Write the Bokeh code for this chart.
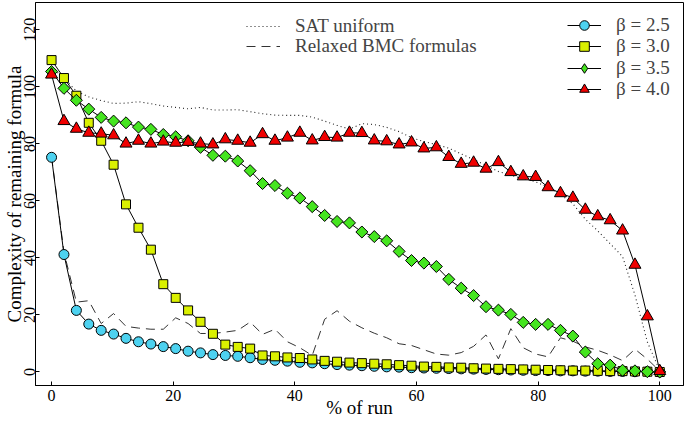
import math
from bokeh.plotting import figure
from bokeh.models import Range1d, FixedTicker, Legend, LegendItem
from bokeh.embed import file_html
from bokeh.resources import INLINE

# ---- data ----
run_pct = [0, 2.04, 4.08, 6.12, 8.16, 10.2, 12.24, 14.29, 16.33, 18.37,
           20.41, 22.45, 24.49, 26.53, 28.57, 30.61, 32.65, 34.69, 36.73, 38.78,
           40.82, 42.86, 44.9, 46.94, 48.98, 51.02, 53.06, 55.1, 57.14, 59.18,
           61.22, 63.27, 65.31, 67.35, 69.39, 71.43, 73.47, 75.51, 77.55, 79.59,
           81.63, 83.67, 85.71, 87.76, 89.8, 91.84, 93.88, 95.92, 97.96, 100]

beta_25 = [75.3, 41.2, 21.6, 16.8, 14.6, 13.3, 11.8, 10.6, 9.8, 8.9,
           8.2, 7.3, 6.7, 6.1, 5.8, 5.5, 5.0, 4.4, 4.1, 3.8,
           3.4, 3.2, 2.9, 2.6, 2.4, 2.2, 2.0, 1.8, 1.7, 1.5,
           1.4, 1.3, 1.2, 1.1, 1.0, 0.9, 0.8, 0.7, 0.6, 0.5,
           0.5, 0.4, 0.4, 0.3, 0.3, 0.2, 0.2, 0.1, 0.1, 0.0]

beta_30 = [109.4, 103.1, 96.9, 87.4, 81.1, 72.7, 58.8, 50.6, 42.9, 30.8,
           26.0, 21.6, 17.6, 13.4, 9.6, 8.8, 8.2, 5.8, 5.5, 5.1,
           4.9, 4.4, 3.9, 3.6, 3.3, 3.1, 2.9, 2.7, 2.4, 2.2,
           1.9, 1.8, 1.6, 1.5, 1.3, 1.2, 1.1, 1.0, 0.9, 0.8,
           0.7, 0.6, 0.5, 0.5, 0.4, 0.3, 0.3, 0.2, 0.1, 0.0]

beta_35 = [105.4, 99.5, 95.3, 92.2, 89.3, 88.0, 87.4, 85.9, 85.1, 83.3,
           82.5, 81.1, 78.8, 76.0, 75.7, 74.0, 70.6, 66.1, 65.4, 62.7,
           61.0, 58.0, 54.9, 52.8, 52.3, 49.1, 47.5, 46.0, 42.3, 39.1,
           38.2, 37.0, 32.5, 29.4, 26.8, 22.9, 21.7, 20.2, 17.4, 16.7,
           16.7, 14.6, 12.6, 7.0, 2.9, 2.4, 0.6, 0.4, 0.1, 0.0]

beta_40 = [104.3, 88.0, 85.3, 83.9, 83.6, 83.0, 80.1, 81.1, 80.1, 80.8,
           80.4, 80.7, 80.1, 79.8, 81.6, 81.1, 80.4, 83.4, 81.1, 82.2,
           83.9, 81.2, 82.4, 82.2, 83.9, 83.8, 81.2, 80.9, 79.8, 80.5,
           78.4, 78.8, 75.4, 73.0, 73.4, 71.3, 73.6, 70.1, 68.6, 68.4,
           64.8, 62.7, 61.1, 56.9, 54.6, 53.2, 49.6, 37.6, 19.5, 0.3]

sat_uniform = [107, 103, 98.5, 96.5, 95.2, 94.2, 94.3, 94.8, 94.1, 93.3,
               92.8, 92.3, 92.8, 91.9, 91.9, 92.0, 91.3, 90.6, 90.1, 90.0,
               90.0, 89.4, 88.0, 86.5, 85.2, 87.1, 86.8, 85.8, 84.3, 82.2,
               80.8, 79.8, 78.5, 76.5, 74.5, 72.5, 70.3, 69.0, 67.8, 66.7,
               64.8, 62.3, 59.0, 53.6, 49.5, 45.0, 40.5, 27.0, 10.5, 0.5]

relaxed_bmc = [75.5, 42, 24.5, 25, 17, 20.5, 16, 15.4, 15, 15,
               19, 17, 13.5, 13.5, 14, 14.6, 17.5, 13.2, 15, 10.6,
               8.5, 5.8, 18.5, 21.5, 17.8, 15.5, 13.6, 12, 9.9, 9.3,
               7.8, 6.3, 5.9, 6.8, 9, 13, 4.6, 15.2, 8.5, 6.3,
               5.3, 12, 10.8, 8.8, 7.6, 6, 4, 8, 4.5, 0.3]

x_ticks = [0, 20, 40, 60, 80, 100]
y_ticks = [0, 20, 40, 60, 80, 100, 120]

series_labels = ["β = 2.5", "β = 3.0", "β = 3.5", "β = 4.0"]
series_values = [beta_25, beta_30, beta_35, beta_40]
series_markers = ["circle", "square", "square", "triangle"]
legend_markers = ["circle", "square", "diamond", "triangle"]
series_angles = [0, 0, math.pi / 4, 0]
series_colors = ["#4DD2F0", "#DAF000", "#45E51F", "#F00000"]
series_sizes = [10, 9, 8.5, 12]

FONT = "Liberation Serif"

p = figure(width=685, height=421, output_backend="svg", toolbar_location=None,
           x_range=Range1d(-2.64, 103.9), y_range=Range1d(-4.74, 129.6),
           min_border_left=34, min_border_right=2, min_border_top=2,
           min_border_bottom=36)

p.background_fill_color = "white"
p.border_fill_color = "white"
p.outline_line_color = "black"
p.outline_line_width = 1
p.xgrid.visible = False
p.ygrid.visible = False

for ax in (p.xaxis[0], p.yaxis[0]):
    ax.axis_line_color = "black"
    ax.major_tick_in = 4
    ax.major_tick_out = 0
    ax.minor_tick_line_color = None
    ax.major_tick_line_color = "black"
    ax.major_label_text_font = FONT
    ax.major_label_text_font_size = "16px"
    ax.major_label_text_color = "black"
    ax.axis_label_text_font = FONT
    ax.axis_label_text_font_style = "normal"
    ax.axis_label_text_color = "black"

p.xaxis[0].ticker = FixedTicker(ticks=x_ticks)
p.yaxis[0].ticker = FixedTicker(ticks=y_ticks)
p.xaxis[0].major_label_standoff = 4
p.yaxis[0].major_label_standoff = 0
p.yaxis[0].major_label_orientation = "vertical"

p.xaxis[0].axis_label = "% of run"
p.xaxis[0].axis_label_text_font_size = "19px"
p.xaxis[0].axis_label_standoff = -7
p.yaxis[0].axis_label = "Complexity of remaining formula"
p.yaxis[0].axis_label_text_font_size = "19px"
p.yaxis[0].axis_label_standoff = -3

# reference lines
r_sat = p.line(run_pct, sat_uniform, line_color="#222222", line_width=1.1,
               line_dash="1 3")
r_bmc = p.line(run_pct, relaxed_bmc, line_color="#333333", line_width=1,
               line_dash="9 6")

items = []
for lab, vals, mk, lmk, ang, col, sz in zip(series_labels, series_values,
                                            series_markers, legend_markers,
                                            series_angles, series_colors,
                                            series_sizes):
    rl = p.line(run_pct, vals, line_color="black", line_width=1)
    rs_leg = None
    if lmk != mk:
        # small plain diamonds underneath (fully hidden by the rotated squares);
        # they give the legend its diamond symbol
        rs_leg = p.scatter(run_pct, vals, marker=lmk, size=sz * 0.9,
                           fill_color=col, line_color="black", line_width=1)
    rs = p.scatter(run_pct, vals, marker=mk, size=sz, angle=ang, fill_color=col,
                   line_color="black", line_width=1)
    items.append(LegendItem(label=lab, renderers=[rl, rs_leg or rs]))

legend_style = dict(border_line_color=None, background_fill_alpha=0,
                    padding=0, margin=0, spacing=0, glyph_width=34,
                    label_standoff=15, label_text_font=FONT,
                    label_text_font_size="19px")

# one legend per row, so the row pitch matches the reference exactly
ref_items = [LegendItem(label="SAT uniform", renderers=[r_sat]),
             LegendItem(label="Relaxed BMC formulas", renderers=[r_bmc])]
for it, ly in zip(ref_items, [348, 328]):
    p.add_layout(Legend(items=[it], location=(211, ly), glyph_height=20,
                        label_height=20, **legend_style))
for it, ly in zip(items, [348, 327, 305, 284]):
    p.add_layout(Legend(items=[it], location=(532, ly), glyph_height=24,
                        label_height=24, **legend_style))

open("out.html", "w").write(file_html(p, INLINE))
